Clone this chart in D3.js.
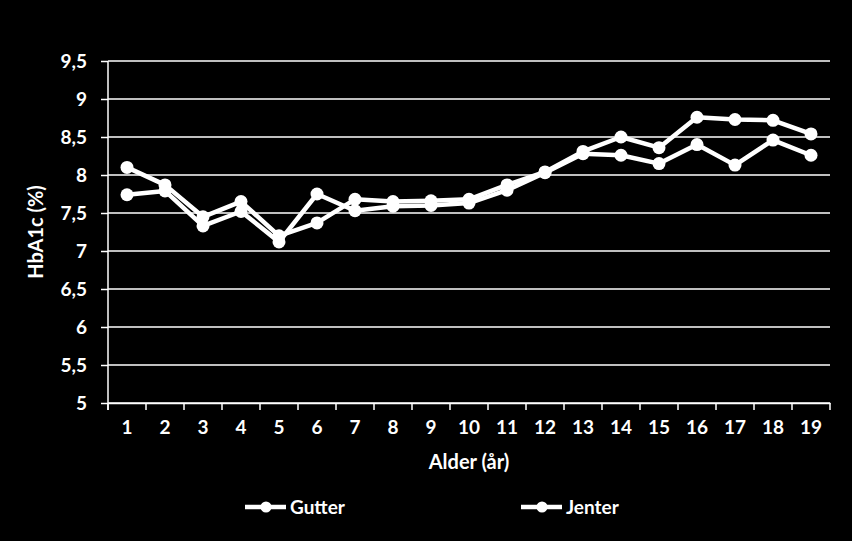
<!DOCTYPE html>
<html>
<head>
<meta charset="utf-8">
<script src="https://cdn.jsdelivr.net/npm/d3@7"></script>
<style>
  html, body { margin: 0; padding: 0; background: #000; }
  svg { display: block; }
  text { font-family: Lato, "Open Sans", sans-serif; font-weight: bold; fill: #fff; }
</style>
</head>
<body>
<div class="js-chart"></div>
<script>
var ages = ['1','2','3','4','5','6','7','8','9','10','11','12','13','14','15','16','17','18','19'];
var gutter = [7.74, 7.79, 7.33, 7.52, 7.12, 7.75, 7.53, 7.59, 7.60, 7.63, 7.80, 8.03, 8.28, 8.26, 8.15, 8.40, 8.13, 8.46, 8.26];
var jenter = [8.10, 7.87, 7.45, 7.65, 7.20, 7.37, 7.68, 7.65, 7.66, 7.68, 7.87, 8.04, 8.31, 8.50, 8.36, 8.76, 8.73, 8.72, 8.54];
var yTicks = [5, 5.5, 6, 6.5, 7, 7.5, 8, 8.5, 9, 9.5];
var seriesNames = ['Gutter', 'Jenter'];

var width = 852, height = 541;
var mLeft = 108, mRight = 830, mTop = 61, mBottom = 403;

var svg = d3.select('.js-chart')
    .append('svg')
    .attr('width', width)
    .attr('height', height);

svg.append('rect')
    .attr('width', width)
    .attr('height', height)
    .attr('fill', '#000');

var x = d3.scaleBand()
    .domain(ages)
    .range([mLeft, mRight]);

var y = d3.scaleLinear()
    .domain([5, 9.5])
    .range([mBottom, mTop]);

var fmt = function(d) { return String(d).replace('.', ','); };

// gridlines
svg.append('g')
    .selectAll('line')
    .data(yTicks)
    .enter()
    .append('line')
        .attr('x1', mLeft)
        .attr('x2', mRight)
        .attr('y1', function(d) { return y(d); })
        .attr('y2', function(d) { return y(d); })
        .attr('stroke', '#fff')
        .attr('stroke-width', 1.5);

// y axis
var yAxis = svg.append('g')
    .attr('transform', 'translate(' + mLeft + ',0)')
    .call(d3.axisLeft(y).tickValues(yTicks).tickFormat(fmt).tickSize(7).tickPadding(14));
yAxis.select('.domain').attr('stroke', '#fff').attr('stroke-width', 1.5)
    .attr('d', 'M0,' + mTop + 'V' + (mBottom + 7));
yAxis.selectAll('.tick line').attr('stroke', '#fff').attr('stroke-width', 1.5);
yAxis.selectAll('.tick text')
    .style('font-size', '19px')
    .style('font-family', 'Lato, sans-serif')
    .style('font-weight', 'bold')
    .attr('fill', '#fff');

// x axis
var xAxis = svg.append('g')
    .attr('transform', 'translate(0,' + mBottom + ')')
    .call(d3.axisBottom(x).tickSize(0).tickPadding(18));
xAxis.select('.domain').attr('stroke', '#fff').attr('stroke-width', 1.5);
xAxis.selectAll('.tick text')
    .style('font-size', '19px')
    .style('font-family', 'Lato, sans-serif')
    .style('font-weight', 'bold')
    .attr('fill', '#fff');
xAxis.selectAll('.sep')
    .data(ages.concat(['end']))
    .enter()
    .append('line')
        .attr('class', 'sep')
        .attr('x1', function(d, i) { return mLeft + i * x.step(); })
        .attr('x2', function(d, i) { return mLeft + i * x.step(); })
        .attr('y1', 0)
        .attr('y2', 7)
        .attr('stroke', '#fff')
        .attr('stroke-width', 1.5);

// axis titles
svg.append('text')
    .attr('x', (mLeft + mRight) / 2)
    .attr('y', 469)
    .attr('text-anchor', 'middle')
    .style('font-size', '20px')
    .text('Alder (år)');

svg.append('text')
    .attr('transform', 'translate(43,' + ((mTop + mBottom) / 2) + ') rotate(-90)')
    .attr('text-anchor', 'middle')
    .style('font-size', '20px')
    .text('HbA1c (%)');

// lines
var line = d3.line()
    .x(function(d, i) { return x(ages[i]) + x.bandwidth() / 2; })
    .y(function(d) { return y(d); });

[gutter, jenter].forEach(function(series) {
    svg.append('path')
        .datum(series)
        .attr('d', line)
        .attr('fill', 'none')
        .attr('stroke', '#fff')
        .attr('stroke-width', 4.5)
        .attr('stroke-linejoin', 'round');

    svg.append('g')
        .selectAll('circle')
        .data(series)
        .enter()
        .append('circle')
            .attr('cx', function(d, i) { return x(ages[i]) + x.bandwidth() / 2; })
            .attr('cy', function(d) { return y(d); })
            .attr('r', 6.5)
            .attr('fill', '#fff');
});

// legend
var legend = svg.append('g')
    .selectAll('g')
    .data(seriesNames)
    .enter()
    .append('g')
        .attr('transform', function(d, i) { return 'translate(' + (245 + i * 276) + ',507)'; });

legend.append('line')
    .attr('x1', 0).attr('x2', 41)
    .attr('stroke', '#fff')
    .attr('stroke-width', 4.5);
legend.append('circle')
    .attr('cx', 21)
    .attr('r', 5.5)
    .attr('fill', '#fff');
legend.append('text')
    .attr('x', 45)
    .attr('dy', '0.35em')
    .style('font-size', '19px')
    .text(function(d) { return d; });
</script>
</body>
</html>
